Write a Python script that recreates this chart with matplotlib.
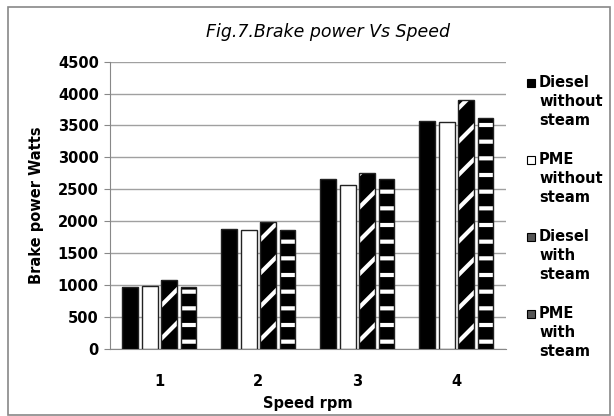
# -*- coding: utf-8 -*-
"""Fig. 7 — Brake power vs speed, grouped bars for diesel / PME with and without steam."""
import matplotlib
matplotlib.use("Agg")
import matplotlib.pyplot as plt
import numpy as np
from matplotlib.patches import Rectangle

plt.rcParams["font.family"] = ["DejaVu Sans"]
plt.rcParams["hatch.linewidth"] = 3.0

speeds = ["1", "2", "3", "4"]
series_names = ["Diesel\nwithout\nsteam", "PME\nwithout\nsteam",
                "Diesel\nwith\nsteam", "PME\nwith\nsteam"]
diesel_no_steam = [966, 1883, 2660, 3563]
pme_no_steam = [986, 1867, 2562, 3548]
diesel_steam = [1075, 1983, 2759, 3897]
pme_steam = [975, 1867, 2660, 3610]

valores = [diesel_no_steam, pme_no_steam, diesel_steam, pme_steam]
caras = ["black", "white", "black", "black"]
tramas = [None, None, "/", "-"]
muestras = ["black", "white", "#555555", "#555555"]

W, H = 614, 416
fig = plt.figure(figsize=(W / 100, H / 100), dpi=100)
ax = fig.add_axes([0.179, 0.161, 0.645, 0.691])

x = np.arange(len(speeds))
paso = 0.196
ancho = 0.16
for i, (vals, cara, trama) in enumerate(zip(valores, caras, tramas)):
    pos = x + (i - 1.5) * paso
    if trama:
        ax.bar(pos, vals, ancho, color=cara, edgecolor="white",
               hatch=trama, linewidth=0, zorder=3)
    else:
        ax.bar(pos, vals, ancho, color=cara, linewidth=0, zorder=3)
    ax.bar(pos, vals, ancho, fill=False, edgecolor="#222222",
           linewidth=1.0, zorder=4)

ax.set_xlim(-0.5, 3.5)
ax.set_ylim(0, 4500)
ax.set_yticks(np.arange(0, 4501, 500))
ax.set_xticks(x)
ax.set_xticklabels(speeds, fontsize=10.5, fontweight="bold")
ax.tick_params(axis="y", labelsize=10.5, length=4, color="#888888", pad=4)
ax.tick_params(axis="x", length=0, pad=18)
for lbl in ax.get_yticklabels():
    lbl.set_fontweight("bold")
ax.yaxis.grid(True, color="#a0a0a0", linewidth=1.0, zorder=0)
ax.set_axisbelow(True)
for s in ["top", "right"]:
    ax.spines[s].set_visible(False)
for s in ["left", "bottom"]:
    ax.spines[s].set_color("#888888")

ax.set_ylabel("Brake power Watts", fontsize=10.5, fontweight="bold", labelpad=10)
ax.set_xlabel("Speed rpm", fontsize=10.5, fontweight="bold", labelpad=5)
fig.text(328 / W, 1 - 32 / H, "Fig.7.Brake power Vs Speed", fontsize=12.5,
         style="italic", ha="center", va="center")

# leyenda manual: cuadro junto a la primera línea del texto
y0, dy = 83, 77
for i, (nombre, muestra) in enumerate(zip(series_names, muestras)):
    yc = y0 + i * dy
    fig.patches.append(Rectangle((527 / W, 1 - (yc + 4) / H), 8 / W, 8 / H,
                                 transform=fig.transFigure, facecolor=muestra,
                                 edgecolor="black", linewidth=0.8))
    fig.text(539 / W, 1 - (yc - 8) / H, nombre, fontsize=10.5,
             fontweight="bold", ha="left", va="top", linespacing=1.33)

fig.patches.append(Rectangle((8 / W, 0.003), 602 / W, 1 - 0.003 - 7 / H,
                             transform=fig.transFigure, fill=False,
                             edgecolor="#888888", linewidth=1.2))

fig.savefig("out.png", dpi=100)
